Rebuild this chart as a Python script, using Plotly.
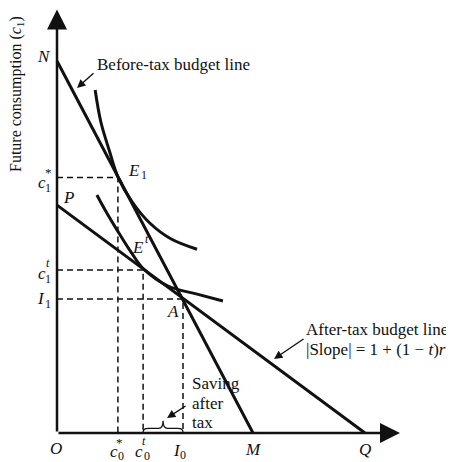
import plotly.graph_objects as go

# ---------------- data (model units) ----------------
I0 = 36.0          # present income
I1 = 38.3          # future income
N_y = 106.3        # before-tax budget line intercept (c1 axis)
M_x = 56.0         # before-tax budget line intercept (c0 axis)
P_y = 65.1         # after-tax budget line intercept (c1 axis)
Q_x = 88.0         # after-tax budget line intercept (c0 axis)
c0_star, c1_star = 17.4, 73.0
c0_t, c1_t = 24.6, 46.6
ic_high_x = [10.9, 12.5, 15.0, 17.4, 21.5, 26.5, 32.5, 40.0]
ic_high_y = [98.0, 89.0, 80.5, 73.2, 66.0, 60.0, 55.5, 52.5]
ic_low_x = [11.4, 13.7, 17.4, 21.4, 24.6, 31.7, 40.3, 47.4]
ic_low_y = [68.0, 63.8, 57.6, 51.3, 47.0, 42.0, 39.6, 37.7]
x_axis_end = 98.0
y_axis_end = 121.0

# page offset (body margin) so page pixels line up with the reference
OFF = 8
W, H = 454, 462

# ---------------- helpers for label placement (page pixels -> data) ----------------
def X(px):
    return (px - 57) / 3.5

def Y(py):
    return (433 - py) / 3.5

FONT = "Liberation Serif"
BLACK = "#111111"

fig = go.Figure()

# budget lines
fig.add_trace(go.Scatter(x=[0, M_x], y=[N_y, 0], mode="lines",
                         line=dict(color=BLACK, width=3), hoverinfo="skip"))
fig.add_trace(go.Scatter(x=[0, Q_x], y=[P_y, 0], mode="lines",
                         line=dict(color=BLACK, width=3), hoverinfo="skip"))
# indifference curves
fig.add_trace(go.Scatter(x=ic_high_x, y=ic_high_y, mode="lines",
                         line=dict(color=BLACK, width=3, shape="spline", smoothing=1.0),
                         hoverinfo="skip"))
fig.add_trace(go.Scatter(x=ic_low_x, y=ic_low_y, mode="lines",
                         line=dict(color=BLACK, width=3, shape="spline", smoothing=1.0),
                         hoverinfo="skip"))
# dashed guide lines
for (gx, gy) in [(c0_star, c1_star), (c0_t, c1_t), (I0, I1)]:
    fig.add_trace(go.Scatter(x=[0, gx, gx], y=[gy, gy, 0], mode="lines",
                             line=dict(color=BLACK, width=1.5, dash="6px,4px"),
                             hoverinfo="skip"))

# brace under saving after tax
xm = (c0_t + I0) / 2
b0, b1, b2 = 0.25, 1.3, 3.5
brace = (f"M {c0_t},{b0} Q {c0_t},{b1} {c0_t+1.5},{b1} L {xm-1.3},{b1} "
         f"Q {xm},{b1} {xm},{b2} Q {xm},{b1} {xm+1.3},{b1} L {I0-1.5},{b1} "
         f"Q {I0},{b1} {I0},{b0}")
fig.add_shape(type="path", path=brace, xref="x", yref="y",
              line=dict(color=BLACK, width=1.3))

ann = []
# axes with arrowheads
ann.append(dict(x=0, y=y_axis_end, ax=0, ay=0, xref="x", yref="y", axref="x", ayref="y",
                text="", showarrow=True, arrowhead=2, arrowsize=1.6, arrowwidth=2.5,
                arrowcolor=BLACK))
ann.append(dict(x=x_axis_end, y=0, ax=0, ay=0, xref="x", yref="y", axref="x", ayref="y",
                text="", showarrow=True, arrowhead=2, arrowsize=1.6, arrowwidth=2.5,
                arrowcolor=BLACK))

def lab(text, px, py, size=17, xanchor="center", yanchor="middle", italic=False, angle=0):
    t = f"<i>{text}</i>" if italic else text
    ann.append(dict(x=X(px), y=Y(py), xref="x", yref="y", text=t, showarrow=False,
                    font=dict(family=FONT, size=size, color=BLACK),
                    xanchor=xanchor, yanchor=yanchor, textangle=angle))

# point labels
lab("N", 44, 56, italic=True)
lab("P", 68, 197, italic=True)
lab("O", 56, 448, italic=True)
lab("M", 253, 449, italic=True)
lab("Q", 365, 449, italic=True)
lab("A", 173, 311, italic=True)
lab("E", 134, 170, italic=True)
lab("1", 144, 175, size=12)
lab("E", 138, 247, italic=True)
lab("t", 147, 239, size=12, italic=True)

# axis labels with sub/superscripts
lab("c", 42, 182, italic=True)
lab("*", 48, 172, size=13)
lab("1", 48, 188, size=12)
lab("c", 42, 273, italic=True)
lab("t", 48, 263, size=12, italic=True)
lab("1", 48, 279, size=12)
lab("I", 41, 298, italic=True)
lab("1", 48, 304, size=12)

lab("c", 114, 451, italic=True)
lab("*", 119, 442, size=13)
lab("0", 121, 456, size=12)
lab("c", 139, 451, italic=True)
lab("t", 144, 441, size=12, italic=True)
lab("0", 147, 456, size=12)
lab("I", 177, 450, italic=True)
lab("0", 183, 455, size=12)

# y axis title
lab("Future consumption (<i>c</i><sub>1</sub>)", 16, 94, size=16, angle=-90)

# text labels
lab("Before-tax budget line", 95, 64, size=17, xanchor="left")
lab("After-tax budget line", 450, 329, size=17, xanchor="right")
lab("|Slope| = 1 + (1 \u2212 <i>t</i>)<i>r</i>", 448, 349, size=17, xanchor="right")
lab("Saving", 190, 383, size=17, xanchor="left")
lab("after", 190, 403, size=17, xanchor="left")
lab("tax", 190, 422, size=17, xanchor="left")

# pointer arrows
for (hx, hy, tx, ty) in [(77, 88, 95, 72), (274, 359, 305, 338), (167, 418, 187, 405)]:
    ann.append(dict(x=X(hx), y=Y(hy), ax=X(tx), ay=Y(ty), xref="x", yref="y",
                    axref="x", ayref="y", text="", showarrow=True, arrowhead=2,
                    arrowsize=1.2, arrowwidth=1.4, arrowcolor=BLACK))

fig.update_layout(
    width=W - OFF, height=H - OFF, margin=dict(l=0, r=0, t=0, b=0),
    paper_bgcolor="white", plot_bgcolor="white", showlegend=False,
    xaxis=dict(range=[X(OFF), X(W)], visible=False, fixedrange=True),
    yaxis=dict(range=[Y(H), Y(OFF)], visible=False, fixedrange=True),
    annotations=ann,
)

fig.write_html("out.html")
